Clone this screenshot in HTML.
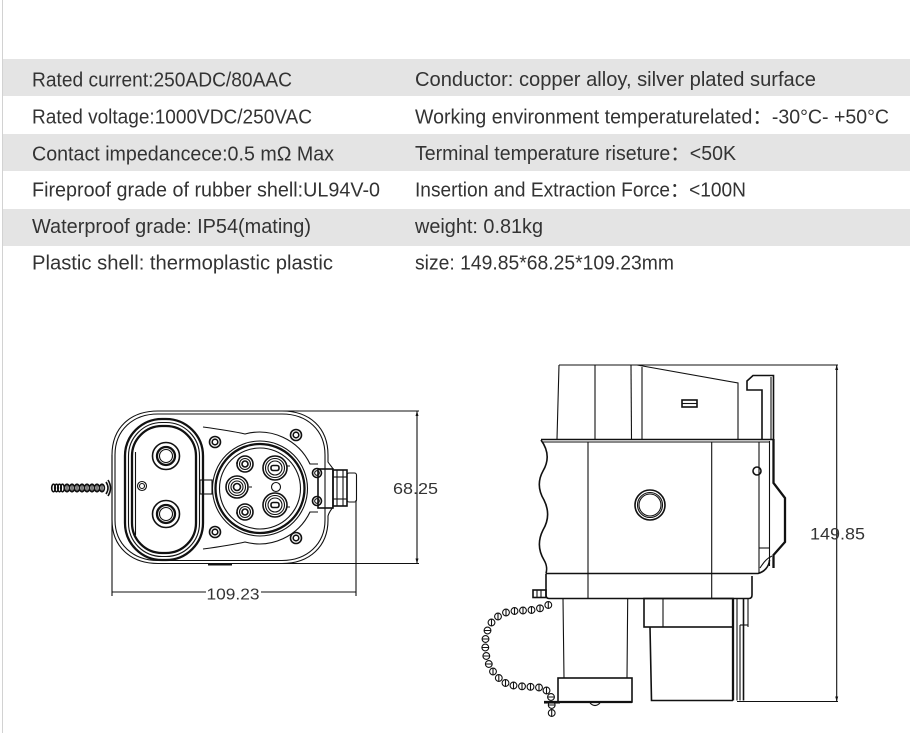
<!DOCTYPE html>
<html><head><meta charset="utf-8"><style>
html,body{margin:0;padding:0;background:#fff;}
svg{display:block;}
.t{font-family:"Liberation Sans","Noto Sans CJK SC",sans-serif;font-size:20px;fill:#333;}
.d{font-family:"Liberation Sans",sans-serif;fill:#333;}
.l{fill:none;stroke:#111;stroke-width:1.1;}
.m{fill:none;stroke:#111;stroke-width:1.6;}
.k{fill:none;stroke:#111;stroke-width:2.3;}
</style></head><body>
<svg width="910" height="733" viewBox="0 0 910 733" xmlns="http://www.w3.org/2000/svg">
<rect width="910" height="733" fill="#fff"/>
<line x1="2.5" y1="0" x2="2.5" y2="733" stroke="#d2d2d2" stroke-width="1"/>
<rect x="3" y="59" width="907" height="37" fill="#e4e4e4"/>
<rect x="3" y="134" width="907" height="37" fill="#e4e4e4"/>
<rect x="3" y="209" width="907" height="37" fill="#e4e4e4"/>

<text class="t" x="32" y="86.5" textLength="260" lengthAdjust="spacingAndGlyphs">Rated current:250ADC/80AAC</text>
<text class="t" x="32" y="123.5" textLength="280" lengthAdjust="spacingAndGlyphs">Rated voltage:1000VDC/250VAC</text>
<text class="t" x="32" y="160.5" textLength="302" lengthAdjust="spacingAndGlyphs">Contact impedancece:0.5 mΩ Max</text>
<text class="t" x="32" y="196.5" textLength="348" lengthAdjust="spacingAndGlyphs">Fireproof grade of rubber shell:UL94V-0</text>
<text class="t" x="32" y="233" textLength="279" lengthAdjust="spacingAndGlyphs">Waterproof grade: IP54(mating)</text>
<text class="t" x="32" y="269.5" textLength="301" lengthAdjust="spacingAndGlyphs">Plastic shell: thermoplastic plastic</text>

<text class="t" x="415" y="86" textLength="401" lengthAdjust="spacingAndGlyphs">Conductor: copper alloy, silver plated surface</text>
<text class="t" x="415" y="123.5" textLength="474" lengthAdjust="spacingAndGlyphs">Working environment temperaturelated：-30°C- +50°C</text>
<text class="t" x="415" y="160" textLength="321" lengthAdjust="spacingAndGlyphs">Terminal temperature riseture：&lt;50K</text>
<text class="t" x="415" y="196.5" textLength="331" lengthAdjust="spacingAndGlyphs">Insertion and Extraction Force：&lt;100N</text>
<text class="t" x="415" y="233" textLength="128" lengthAdjust="spacingAndGlyphs">weight: 0.81kg</text>
<text class="t" x="415" y="269.5" textLength="259" lengthAdjust="spacingAndGlyphs">size: 149.85*68.25*109.23mm</text>

<!-- ============ LEFT TOP VIEW ============ -->
<line class="l" x1="158" y1="411" x2="419" y2="411"/>
<line class="l" x1="158" y1="563.5" x2="419" y2="563.5"/>
<line class="l" x1="417" y1="411" x2="417" y2="563.5"/>
<path d="M417 411 l-1.5 5 h3z M417 563.5 l-1.5 -5 h3z" fill="#111"/>
<text class="d" x="393" y="494" font-size="16" textLength="45" lengthAdjust="spacingAndGlyphs">68.25</text>
<line class="l" x1="112" y1="455" x2="112" y2="596"/>
<line class="l" x1="356" y1="500" x2="356" y2="596"/>
<line class="l" x1="112" y1="592" x2="206" y2="592"/>
<line class="l" x1="261" y1="592" x2="356" y2="592"/>
<text class="d" x="206.5" y="599.5" font-size="15.5" textLength="53" lengthAdjust="spacingAndGlyphs">109.23</text>

<!-- outer body -->
<path class="l" d="M158 411 H282 C310 411 328 428 328 455 V462 C330 465 332 467 333 469"/>
<path class="l" d="M333 507 C331 510 329 512 328 516 V520 C328 546 310 563.5 282 563.5 H158 C130 563.5 112 546 112 520 V455 C112 428 130 411 158 411"/>
<path class="l" d="M158 414 H282 C307 414 325 430 325 455 V520 C325 544 307 560.5 282 560.5 H158 C133 560.5 115 544 115 520 V455 C115 430 133 414 158 414 Z"/>
<rect x="208" y="563" width="24" height="2.5" fill="#111"/>

<!-- connector on right -->
<rect class="m" x="318" y="469" width="15" height="39"/>
<rect class="m" x="333" y="470" width="14" height="36"/>
<rect class="l" x="347" y="473" width="9.5" height="29" rx="2"/>
<line class="l" x1="337" y1="470" x2="337" y2="506"/>
<line class="l" x1="343" y1="470" x2="343" y2="506"/>
<line class="l" x1="333" y1="477" x2="347" y2="477"/>
<line class="l" x1="333" y1="499" x2="347" y2="499"/>

<!-- left pod -->
<rect class="k" x="125" y="419" width="78" height="141" rx="37"/>
<rect class="l" x="128.5" y="422.5" width="71" height="134" rx="33.5"/>
<rect class="k" x="132" y="426" width="64" height="127" rx="30"/>
<line class="l" x1="135.5" y1="452" x2="135.5" y2="535"/>
<circle class="m" cx="166" cy="456" r="13.5"/>
<circle class="k" cx="166" cy="456" r="9"/>
<circle class="l" cx="166" cy="456" r="6.5"/>
<circle class="m" cx="166" cy="514" r="13.5"/>
<circle class="k" cx="166" cy="514" r="9"/>
<circle class="l" cx="166" cy="514" r="6.5"/>
<circle class="l" cx="142" cy="486" r="4.5"/>
<circle class="l" cx="142" cy="486" r="2.5"/>

<!-- flap plate -->
<path class="l" d="M203 427 C218 429 232 431 245 434 A56 56 0 0 1 310 464 H318"/>
<path class="l" d="M318 512 H310 A56 56 0 0 1 245 542 C232 545 218 547 203 549"/>
<rect class="l" x="200" y="480" width="12" height="14"/>
<line class="l" x1="203" y1="480" x2="203" y2="494"/>

<!-- socket -->
<circle class="l" cx="260" cy="488.5" r="47.5"/>
<circle class="k" cx="260" cy="488.5" r="44.5"/>
<circle class="l" cx="260" cy="488.5" r="40.5"/>
<g>
<circle class="m" cx="275" cy="468" r="12"/><circle class="l" cx="275" cy="468" r="9.5"/><circle class="l" cx="275" cy="468" r="7"/><rect class="m" x="271" y="465.5" width="8" height="5" rx="2"/>
<circle class="m" cx="275" cy="505" r="12"/><circle class="l" cx="275" cy="505" r="9.5"/><circle class="l" cx="275" cy="505" r="7"/><rect class="m" x="271" y="502.5" width="8" height="5" rx="2"/>
<circle class="m" cx="237" cy="487" r="11"/><circle class="l" cx="237" cy="487" r="8.5"/><circle class="l" cx="237" cy="487" r="6"/><circle class="m" cx="237" cy="487" r="3.5"/>
<circle class="m" cx="245" cy="464" r="8"/><circle class="l" cx="245" cy="464" r="5.5"/><circle class="m" cx="245" cy="464" r="3"/>
<circle class="m" cx="245" cy="512" r="8"/><circle class="l" cx="245" cy="512" r="5.5"/><circle class="m" cx="245" cy="512" r="3"/>
<circle class="l" cx="276" cy="487" r="4.5"/>
<path class="l" d="M287 466 h3 M287 507 h3 M249 487 h3 M236 463 h2 M236 513 h2"/>
</g>
<g>
<circle class="m" cx="215" cy="442" r="5.5"/><circle class="m" cx="215" cy="442" r="2.8"/>
<circle class="m" cx="296" cy="435" r="5.5"/><circle class="m" cx="296" cy="435" r="2.8"/>
<circle class="m" cx="215" cy="532" r="5.5"/><circle class="m" cx="215" cy="532" r="2.8"/>
<circle class="m" cx="296" cy="538" r="5.5"/><circle class="m" cx="296" cy="538" r="2.8"/>
<circle class="m" cx="317" cy="473" r="4.5"/><circle class="l" cx="317" cy="473" r="2.3"/>
<circle class="m" cx="317" cy="501" r="4.5"/><circle class="l" cx="317" cy="501" r="2.3"/>
</g>
<!-- chain left -->
<g class="m">
<ellipse cx="53.5" cy="488" rx="1.8" ry="3.8"/><ellipse cx="56.5" cy="488" rx="1.8" ry="3.8"/><ellipse cx="59.5" cy="488" rx="1.8" ry="3.8"/><ellipse cx="62.5" cy="488" rx="1.8" ry="3.8"/>
<ellipse cx="67" cy="488" rx="2.4" ry="3.8"/><ellipse cx="72" cy="488" rx="2.4" ry="3.8"/><ellipse cx="77" cy="488" rx="2.4" ry="3.8"/><ellipse cx="82" cy="488" rx="2.4" ry="3.8"/><ellipse cx="87" cy="488" rx="2.4" ry="3.8"/><ellipse cx="92" cy="488" rx="2.4" ry="3.8"/><ellipse cx="97" cy="488" rx="2.4" ry="3.8"/><ellipse cx="102" cy="488" rx="2.4" ry="3.8"/>
<path d="M106 482 Q110 488 106 494 M108 480 Q113 488 108 496"/>
</g>
<path class="l" d="M67 484.5 v7 M72 484.5 v7 M77 484.5 v7 M82 484.5 v7 M87 484.5 v7 M92 484.5 v7 M97 484.5 v7 M102 484.5 v7"/>

<!-- ============ RIGHT SIDE VIEW ============ -->
<line class="l" x1="559" y1="365" x2="838" y2="365"/>
<line class="l" x1="737" y1="701.5" x2="838" y2="701.5"/>
<line class="l" x1="836.7" y1="365" x2="836.7" y2="701.5"/>
<path d="M836.7 365 l-1.5 5 h3z M836.7 701.5 l-1.5 -5 h3z" fill="#111"/>
<text class="d" x="810" y="539.5" font-size="16.5" textLength="55" lengthAdjust="spacingAndGlyphs">149.85</text>

<path class="l" d="M559 365 L557 439 M637 365 L738 383 V439"/>
<line class="l" x1="595" y1="365" x2="595" y2="439"/>
<line class="l" x1="631" y1="365" x2="631.5" y2="439"/>
<line class="l" x1="642" y1="367" x2="642" y2="439"/>
<rect class="m" x="682" y="400" width="15" height="7"/>
<line class="l" x1="682" y1="403.5" x2="697" y2="403.5"/>
<path class="m" d="M762 439 V390 H747 V381 L753 375.5 H773.5 V439"/>
<line class="l" x1="771" y1="377" x2="771" y2="439"/>
<path class="k" d="M773.5 439 V483 L785 498 V542 L773.5 555 V568"/>
<line class="l" x1="769.5" y1="441" x2="769.5" y2="566"/>

<line class="m" x1="541" y1="439.5" x2="773" y2="439.5"/>
<line class="l" x1="543" y1="442" x2="769" y2="442"/>
<path class="m" d="M541 440 C549 451 549 461 543 471 C538 480 538 490 544 500 C549 510 549 520 543 530 C538 540 538 550 544 560 C547 565 547 570 546 573"/>
<path class="m" d="M546 573.5 H758 C764 572 769 567 769.5 560"/>
<line class="l" x1="759" y1="442" x2="759" y2="573"/>
<line class="l" x1="759" y1="548" x2="769" y2="548"/>
<path class="l" d="M760 568 C765 560 768 558 772 556"/>
<line class="l" x1="588" y1="442" x2="588" y2="598"/>
<line class="l" x1="711.7" y1="442" x2="711.7" y2="598"/>
<circle class="m" cx="650" cy="505" r="15"/>
<circle class="l" cx="650" cy="505" r="12.5"/>
<circle class="l" cx="650" cy="505" r="11"/>
<circle class="m" cx="757" cy="471" r="4"/>

<path class="m" d="M546 573.5 V595 Q546 598.5 549 598.5 H749 Q752 598.5 752 595 V576"/>
<rect class="m" x="533" y="590" width="13" height="7.5"/>
<path class="l" d="M537 590 v7.5 M541 590 v7.5"/>

<path class="l" d="M563 598.5 L564 678 M627.7 598.5 L627 678"/>
<rect class="m" x="558" y="678" width="74" height="24"/>
<line class="k" x1="544" y1="702" x2="632" y2="702"/>
<path class="l" d="M590 703 Q595 708 600 703"/>

<rect class="m" x="644" y="598.5" width="89" height="28.5"/>
<line class="l" x1="663" y1="598.5" x2="663" y2="627"/>
<path class="m" d="M650 627 L651.5 700.5 H733"/>
<line class="k" x1="733" y1="598.5" x2="733" y2="700.5"/>
<line class="l" x1="737" y1="598.5" x2="737" y2="700.5"/>
<line class="l" x1="740" y1="625" x2="740" y2="700.5"/>
<line class="m" x1="743.5" y1="598.5" x2="743.5" y2="700.5"/>
<line class="l" x1="748" y1="598.5" x2="748" y2="627"/>
<line class="l" x1="740" y1="625" x2="748" y2="625"/>

<g class="l">
<circle cx="548.3" cy="605" r="3.4"/><circle cx="540" cy="608.3" r="3.4"/><circle cx="531.5" cy="610" r="3.4"/><circle cx="523" cy="610.5" r="3.4"/><circle cx="514.5" cy="611" r="3.4"/><circle cx="506" cy="612.5" r="3.4"/><circle cx="498" cy="616.5" r="3.4"/><circle cx="491.5" cy="622.5" r="3.4"/><circle cx="487.5" cy="630.5" r="3.4"/><circle cx="485.5" cy="639" r="3.4"/><circle cx="485.3" cy="647.5" r="3.4"/><circle cx="486.3" cy="656" r="3.4"/><circle cx="488.8" cy="664" r="3.4"/><circle cx="493" cy="671.5" r="3.4"/><circle cx="498.8" cy="678" r="3.4"/><circle cx="505.5" cy="683" r="3.4"/><circle cx="513.5" cy="685.5" r="3.4"/><circle cx="522" cy="686.3" r="3.4"/><circle cx="530.5" cy="686.8" r="3.4"/><circle cx="539" cy="687.5" r="3.4"/><circle cx="546.5" cy="690.5" r="3.4"/><circle cx="551" cy="697" r="3.4"/><circle cx="551.7" cy="705" r="3.4"/><circle cx="551.7" cy="713" r="3.4"/>
<path d="M548.3 601.6v6.8 M540 604.9v6.8 M531.5 606.6v6.8 M523 607.1v6.8 M514.5 607.6v6.8 M506 609.1v6.8 M498 613.1v6.8 M491.5 619.1v6.8 M484.1 630.5h6.8 M482.1 639h6.8 M481.9 647.5h6.8 M482.9 656h6.8 M485.4 664h6.8 M493 668.1v6.8 M498.8 674.6v6.8 M505.5 679.6v6.8 M513.5 682.1v6.8 M522 682.9v6.8 M530.5 683.4v6.8 M539 684.1v6.8 M546.5 687.1v6.8 M547.6 697h6.8 M548.3 705h6.8 M551.7 709.6v6.8"/>
<line x1="544" y1="703" x2="560" y2="703"/>
</g>
</svg>
</body></html>
